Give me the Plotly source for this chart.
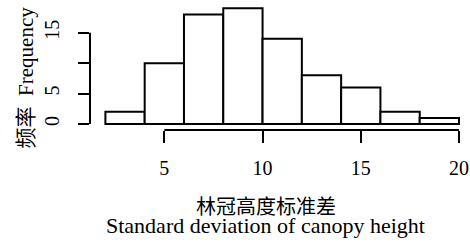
import plotly.graph_objects as go

# Data
bin_edges = [2, 4, 6, 8, 10, 12, 14, 16, 18, 20]
counts = [2, 10, 18, 19, 14, 8, 6, 2, 1]
x_ticks = [5, 10, 15, 20]
y_ticks = [0, 5, 10, 15]
y_ticktext = ["0", "5", "", "15"]
title_cn = "林冠高度标准差"
title_en = "Standard deviation of canopy height"
ytitle = "频率  Frequency"

centers = [(a + b) / 2 for a, b in zip(bin_edges[:-1], bin_edges[1:])]
widths = [b - a for a, b in zip(bin_edges[:-1], bin_edges[1:])]

FONT = "Liberation Serif, Times New Roman, Noto Sans CJK SC, serif"
CJK = "Noto Sans CJK SC, Liberation Serif, serif"

fig = go.Figure()
fig.add_trace(go.Bar(
    x=centers, y=counts, width=widths,
    marker=dict(color="white", line=dict(color="black", width=2)),
    showlegend=False, hoverinfo="skip",
))

fig.update_layout(
    width=470, height=246,
    margin=dict(l=90, r=5, t=5, b=116),
    plot_bgcolor="white", paper_bgcolor="white",
    font=dict(family=FONT, size=20, color="black"),
    xaxis=dict(
        range=[1.216, 20.305], tickvals=x_ticks, ticks="outside", ticklen=12,
        tickwidth=2, tickcolor="black", showgrid=False, zeroline=False,
        showline=False, ticklabelstandoff=8, automargin=False,
        tickfont=dict(family=FONT, size=20),
    ),
    yaxis=dict(
        range=[-0.986, 19.55], tickvals=y_ticks, ticktext=y_ticktext,
        ticks="outside", ticklen=11, tickwidth=2, tickcolor="black",
        showgrid=False, zeroline=False, showline=False, tickangle=-90,
        ticklabelstandoff=11, automargin=False, tickfont=dict(family=FONT, size=20),
    ),
    shapes=[
        dict(type="line", xref="paper", yref="y", x0=0, x1=0,
             y0=min(y_ticks), y1=max(y_ticks), line=dict(color="black", width=2)),
        dict(type="line", xref="x", yref="paper", x0=min(x_ticks), x1=max(x_ticks),
             y0=0, y1=0, line=dict(color="black", width=2)),
    ],
    annotations=[
        dict(text=title_cn, xref="paper", yref="paper", x=0.469, y=-0.60,
             showarrow=False, font=dict(family=CJK, size=20), xanchor="center", yanchor="middle"),
        dict(text=title_en, xref="paper", yref="paper", x=0.469, y=-0.76,
             showarrow=False, font=dict(family=FONT, size=22), xanchor="center", yanchor="middle"),
        dict(text=ytitle, xref="paper", yref="paper", x=-0.17, y=0.4226, textangle=-90,
             showarrow=False, font=dict(family=FONT, size=21), xanchor="center", yanchor="middle"),
    ],
)

fig.write_html("out.html", config={"displayModeBar": False},
               post_script="document.body.style.margin='0';document.body.style.padding='0';")
